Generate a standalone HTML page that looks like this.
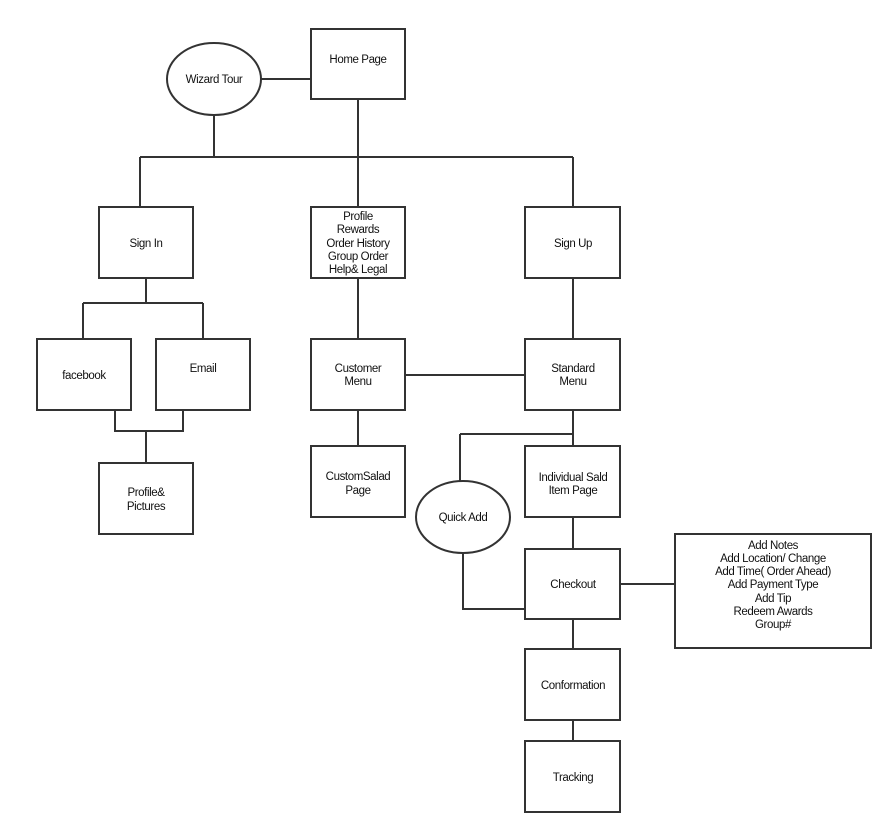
<!DOCTYPE html>
<html><head><style>
html,body{margin:0;padding:0;background:#fff;}
svg{display:block;}
text{font-family:"Liberation Sans",Arial,sans-serif;font-size:11.5px;fill:#111;text-anchor:middle;letter-spacing:-0.4px;}
</style></head><body>
<svg width="896" height="834" viewBox="0 0 896 834" xmlns="http://www.w3.org/2000/svg">
<g fill="#fff" stroke="#333" stroke-width="2">
<path fill="none" d="M261 79H311 M214 115V157 M358 99V207 M140 157H573 M140 157V207 M573 157V207
M146 278V303 M83 303H203 M83 303V339 M203 303V339 M115 410V431H183V410 M146 431V463
M358 278V339 M405 375H525 M358 410V446
M573 278V339 M573 410V446 M460 434H573 M460 434V481 M463 553V609H525
M573 517V549 M620 584H675 M573 619V649 M573 720V741"/>
<ellipse cx="214" cy="79" rx="47" ry="36"/>
<rect x="311" y="29" width="94" height="70"/>
<rect x="99" y="207" width="94" height="71"/>
<rect x="311" y="207" width="94" height="71"/>
<rect x="525" y="207" width="95" height="71"/>
<rect x="37" y="339" width="94" height="71"/>
<rect x="156" y="339" width="94" height="71"/>
<rect x="99" y="463" width="94" height="71"/>
<rect x="311" y="339" width="94" height="71"/>
<rect x="311" y="446" width="94" height="71"/>
<rect x="525" y="339" width="95" height="71"/>
<rect x="525" y="446" width="95" height="71"/>
<ellipse cx="463" cy="517" rx="47" ry="36"/>
<rect x="525" y="549" width="95" height="70"/>
<rect x="675" y="534" width="196" height="114"/>
<rect x="525" y="649" width="95" height="71"/>
<rect x="525" y="741" width="95" height="71"/>
</g>
<text x="214" y="83">Wizard Tour</text>
<text x="358" y="63">Home Page</text>
<text x="146" y="247">Sign In</text>
<text x="358" y="220">Profile</text>
<text x="358" y="233">Rewards</text>
<text x="358" y="247">Order History</text>
<text x="358" y="260">Group Order</text>
<text x="358" y="273">Help&amp;  Legal</text>
<text x="573" y="247">Sign Up</text>
<text x="84" y="379">facebook</text>
<text x="203" y="372">Email</text>
<text x="146" y="496">Profile&amp;</text>
<text x="146" y="510">Pictures</text>
<text x="358" y="372">Customer</text>
<text x="358" y="385">Menu</text>
<text x="358" y="480">CustomSalad</text>
<text x="358" y="494">Page</text>
<text x="573" y="372">Standard</text>
<text x="573" y="385">Menu</text>
<text x="573" y="481">Individual Sald</text>
<text x="573" y="494">Item Page</text>
<text x="463" y="521">Quick Add</text>
<text x="573" y="588">Checkout</text>
<text x="773" y="549">Add Notes</text>
<text x="773" y="562">Add Location/  Change</text>
<text x="773" y="575">Add Time( Order Ahead)</text>
<text x="773" y="588">Add Payment Type</text>
<text x="773" y="602">Add Tip</text>
<text x="773" y="615">Redeem Awards</text>
<text x="773" y="628">Group#</text>
<text x="573" y="689">Conformation</text>
<text x="573" y="781">Tracking</text>
</svg>
</body></html>
